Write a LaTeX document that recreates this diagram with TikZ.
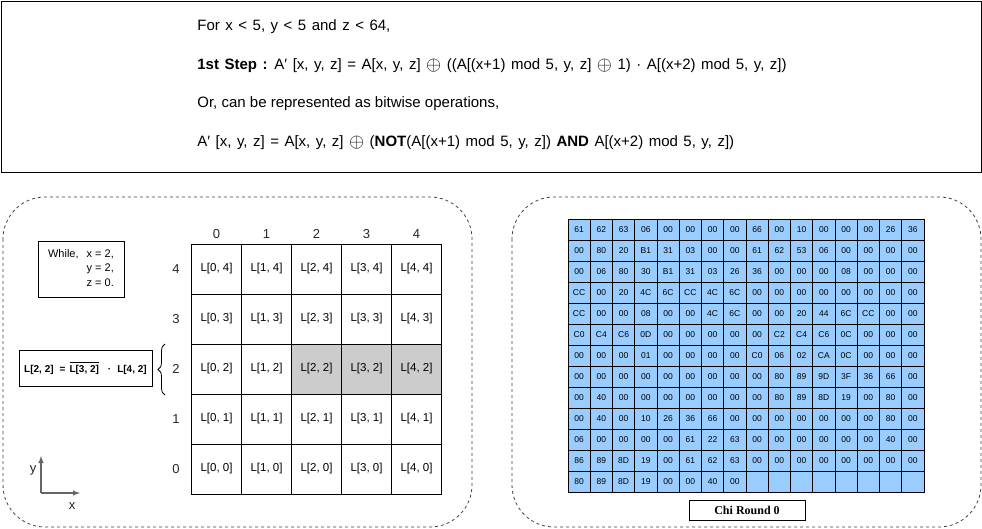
\documentclass[tikz,border=0pt]{standalone}
\usepackage{fontspec}
\setmainfont{Liberation Sans}
\newfontfamily\serifchi{Liberation Serif}
\usetikzlibrary{decorations.pathreplacing}
\usepackage{xcolor}

\definecolor{cellblue}{HTML}{99CCFF}
\definecolor{cellgray}{HTML}{CCCCCC}
\definecolor{axisgray}{HTML}{666666}

% bar over a term, as in NOT
\newcommand{\notbar}[1]{\leavevmode\setbox0\hbox{#1}\rlap{\raisebox{\dimexpr\ht0+1.8pt\relax}{\rule{\wd0}{1.6pt}}}\box0}
% xor sign of the rule text
\newcommand{\xorsign}{\raisebox{-1pt}{\scalebox{1.35}{$\oplus$}}}
% wider word spaces in the rule lines
\newcommand{\widespaces}{\spaceskip=5.5pt plus 1pt\relax}

\begin{document}
\begin{tikzpicture}[x=1pt,y=-1pt,>=latex,line width=0.8pt,
        lcell/.style={draw,minimum size=50pt,inner sep=0pt,font=\fontsize{11.5}{13}\selectfont},
        hexcell/.style={draw,fill=cellblue,minimum width=22.25pt,minimum height=21pt,inner sep=0pt,font=\fontsize{8.5}{10}\selectfont},
        dashbox/.style={draw=black!75,dash pattern=on 3pt off 3pt,rounded corners=42pt},
        ruletext/.style={anchor=west,inner sep=0pt,font=\fontsize{15}{18}\selectfont},
        label/.style={font=\fontsize{13}{15}\selectfont,text=black!85}]

            % keep the page size
            \useasboundingbox (0,0) rectangle (982,529);

            % draw the rule box
            \draw (1,1) rectangle (981,172);
            \node[ruletext] (rule1) at (197,27) {\widespaces For x < 5, y < 5 and z < 64,};
            \node[ruletext] (rule2) at (197,66) {\widespaces\textbf{1st Step :} A\symbol{"2032} [x, y, z] = A[x, y, z] \xorsign{} ((A[(x+1) mod 5, y, z] \xorsign{} 1) · A[(x+2) mod 5, y, z])};
            \node[ruletext] (rule3) at (197,104) {Or, can be represented as bitwise operations,};
            \node[ruletext] (rule4) at (197,143) {\widespaces A\symbol{"2032} [x, y, z] = A[x, y, z] \xorsign{} (\textbf{NOT}(A[(x+1) mod 5, y, z]) \textbf{AND} A[(x+2) mod 5, y, z])};

            % draw the two dashed panels
            \draw[dashbox] (3,197) rectangle (472,527);
            \draw[dashbox] (512,197) rectangle (981,527);

            % shade the row y = 2
            \fill[cellgray] (291.5,344) rectangle (441.5,394);

            % draw the lane grid
            \foreach \i in {0,...,4} {
                \node[label] (col\i) at ({216.5+50*\i},234) {\i};
                \node[label] (row\i) at (176,{469-50*\i}) {\i};
                \foreach \j in {0,...,4}
                    \node[lcell] (L\i\j) at ({216.5+50*\i},{469-50*\j}) {L[\i, \j]};
            }

            % the values of x, y and z
            \node[draw,minimum width=86pt,minimum height=56pt,inner sep=0pt,font=\fontsize{11}{14.5}\selectfont] (cond) at (81,269)
                {\begin{tabular}{@{}l@{\hspace{8pt}}r@{}}While, & x = 2,\\ & y = 2,\\ & z = 0.\end{tabular}};

            % the chi step for one lane
            \node[draw,minimum width=133pt,minimum height=36pt,inner sep=0pt,font=\bfseries\fontsize{10}{12}\selectfont] (chi) at (85.5,368)
                {L[2, 2]\hspace{6pt}=\hspace{4pt}\notbar{L[3, 2]}\hspace{9pt}·\hspace{6pt}L[4, 2]};
            \draw[decorate,decoration={brace,amplitude=7pt}] (165,395) -- (165,344);

            % draw the axes
            \coordinate (o) at (41,493);
            \coordinate (yend) at (41,456);
            \coordinate (xend) at (80,493);
            \draw[->,axisgray,line width=1.4pt] (o) -- (yend);
            \draw[->,axisgray,line width=1.4pt] (o) -- (xend);
            \node[label] (ylab) at (33,470) {y};
            \node[label] (xlab) at (72,506) {x};

            % draw the state after chi
            \foreach \hrow [count=\r from 0] in {
                {61,62,63,06,00,00,00,00,66,00,10,00,00,00,26,36},
                {00,80,20,B1,31,03,00,00,61,62,53,06,00,00,00,00},
                {00,06,80,30,B1,31,03,26,36,00,00,00,08,00,00,00},
                {CC,00,20,4C,6C,CC,4C,6C,00,00,00,00,00,00,00,00},
                {CC,00,00,08,00,00,4C,6C,00,00,20,44,6C,CC,00,00},
                {C0,C4,C6,0D,00,00,00,00,00,C2,C4,C6,0C,00,00,00},
                {00,00,00,01,00,00,00,00,C0,06,02,CA,0C,00,00,00},
                {00,00,00,00,00,00,00,00,00,80,89,9D,3F,36,66,00},
                {00,40,00,00,00,00,00,00,00,80,89,8D,19,00,80,00},
                {00,40,00,10,26,36,66,00,00,00,00,00,00,00,80,00},
                {06,00,00,00,00,61,22,63,00,00,00,00,00,00,40,00},
                {86,89,8D,19,00,61,62,63,00,00,00,00,00,00,00,00},
                {80,89,8D,19,00,00,40,00}} {
                \foreach \v [count=\c from 0] in \hrow
                    \node[hexcell] (h\r-\c) at ({579.125+22.25*\c},{229.5+21*\r}) {\v};
            }
            \foreach \c in {8,...,15}
                \node[hexcell] (h12-\c) at ({579.125+22.25*\c},{229.5+21*12}) {};

            % title of the state
            \node[draw,minimum width=116pt,minimum height=20pt,inner sep=0pt,font=\serifchi\bfseries\fontsize{12}{14}\selectfont] (title) at (747,510) {Chi Round 0};
        \end{tikzpicture}
\end{document}
